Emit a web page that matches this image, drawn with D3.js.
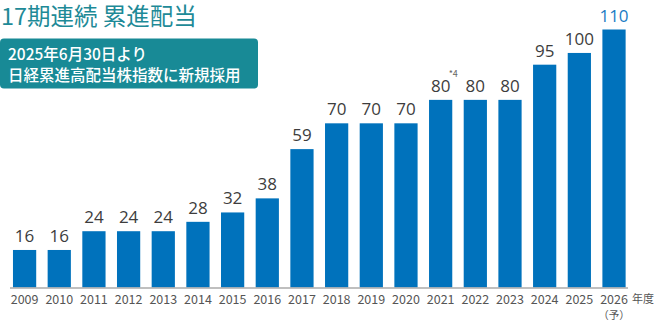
<!DOCTYPE html>
<html>
<head>
<meta charset="utf-8">
<script src="https://cdn.jsdelivr.net/npm/d3@7"></script>
<style>
  html, body { margin: 0; padding: 0; background: #fff; }
  svg { display: block; font-family: "Noto Sans CJK JP", "Noto Sans", sans-serif; }
</style>
</head>
<body>
<svg id="chart" width="666" height="326"></svg>
<script>
// Fiscal years and annual dividend per share (yen)
const years = ["2009","2010","2011","2012","2013","2014","2015","2016","2017",
               "2018","2019","2020","2021","2022","2023","2024","2025","2026"];
const dividends = [16,16,24,24,24,28,32,38,59,70,70,70,80,80,80,95,100,110];
const noteYear = "2021";
const noteText = "*4";
const forecastYear = "2026";
const titleText = "17期連続 累進配当";
const badgeLines = ["2025年6月30日より", "日経累進高配当株指数に新規採用"];

const svg = d3.select("#chart");
const baseY = 287.5;
const chartLeft = 10, chartRight = 628;

const x = d3.scaleBand()
  .domain(years)
  .range([10.2, 628.4])
  .paddingInner(0.33)
  .paddingOuter(0.08);

const y = d3.scaleLinear()
  .domain([0, 110])
  .range([baseY, 29.5]);

// Bars
svg.append("g").selectAll("rect")
  .data(years)
  .join("rect")
  .attr("x", d => x(d))
  .attr("y", (d, i) => y(dividends[i]))
  .attr("width", x.bandwidth())
  .attr("height", (d, i) => baseY - y(dividends[i]))
  .attr("fill", "#0072bc");

// Baseline
svg.append("line")
  .attr("x1", chartLeft).attr("x2", chartRight)
  .attr("y1", baseY + 0.5).attr("y2", baseY + 0.5)
  .attr("stroke", "#aaaaaa").attr("stroke-width", 1.5);

// Value labels
svg.append("g").selectAll("text")
  .data(years)
  .join("text")
  .attr("x", d => x(d) + x.bandwidth() / 2)
  .attr("y", (d, i) => y(dividends[i]) - 8)
  .attr("text-anchor", "middle")
  .attr("font-family", "\"Open Sans\", sans-serif")
  .attr("font-size", 17)
  .attr("font-weight", 500)
  .attr("fill", d => d === forecastYear ? "#1a7cc4" : "#3d3d3d")
  .text((d, i) => dividends[i]);

// Footnote marker
const ni = years.indexOf(noteYear);
svg.append("text")
  .attr("x", x(noteYear) + x.bandwidth() / 2 + 8)
  .attr("y", y(dividends[ni]) - 23)
  .attr("font-size", 9)
  .attr("fill", "#666666")
  .text(noteText);

// Year axis
const axis = d3.axisBottom(x).tickSize(0).tickPadding(0);
const gAxis = svg.append("g")
  .attr("transform", `translate(0,${baseY})`)
  .call(axis);
gAxis.select(".domain").remove();
gAxis.selectAll("text")
  .attr("y", 16)
  .attr("dy", 0)
  .attr("font-size", 12.5)
  .attr("font-family", "\"Noto Sans CJK JP\", sans-serif")
  .attr("fill", "#555555");

svg.append("text")
  .attr("x", 632).attr("y", 303)
  .attr("font-size", 11)
  .attr("fill", "#555555")
  .text("年度");

svg.append("text")
  .attr("x", x(forecastYear) + x.bandwidth() / 2)
  .attr("y", 319)
  .attr("text-anchor", "middle")
  .attr("font-size", 10.5)
  .attr("fill", "#555555")
  .text("（予）");

// Heading
svg.append("text")
  .attr("x", 1).attr("y", 25)
  .attr("font-size", 23.5)
  .attr("font-weight", 400)
  .attr("fill", "#1e8a97")
  .text(titleText);

// Badge
svg.append("rect")
  .attr("x", 0).attr("y", 38.5)
  .attr("width", 258).attr("height", 50)
  .attr("rx", 4)
  .attr("fill", "#188a96");

svg.append("g").selectAll("text")
  .data(badgeLines)
  .join("text")
  .attr("x", 8)
  .attr("y", (d, i) => 60 + i * 21)
  .attr("font-size", 15.5)
  .attr("font-weight", 500)
  .attr("fill", "#ffffff")
  .text(d => d);
</script>
</body>
</html>
